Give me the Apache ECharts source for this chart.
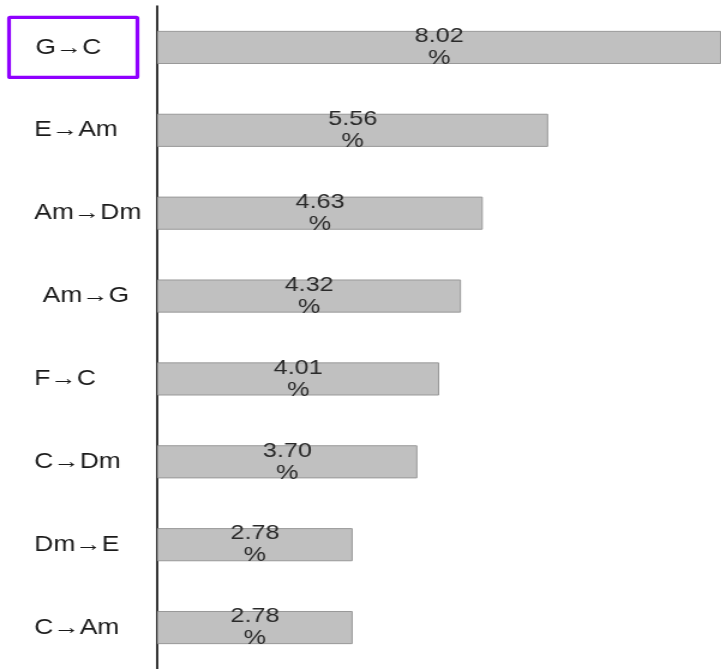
<!DOCTYPE html>
<html>
<head>
<meta charset="utf-8">
<script src="https://cdn.jsdelivr.net/npm/echarts@6/dist/echarts.min.js"></script>
<style>
  html, body { margin: 0; padding: 0; background: #fff; overflow: hidden; }
  /* the chart is laid out narrower and widened, giving the stretched lettering */
  #chart { width: 601px; height: 669px; transform: scaleX(1.2); transform-origin: 0 0; }
</style>
</head>
<body>
<div id="chart"></div>
<script>
// Chord transitions, most frequent first
const transitions = ['G→C', 'E→Am', 'Am→Dm', 'Am→G', 'F→C', 'C→Dm', 'Dm→E', 'C→Am'];
const shares = [8.02, 5.56, 4.63, 4.32, 4.01, 3.70, 2.78, 2.78];
const highlighted = 'G→C';
const indented = 'Am→G';

const FONT = 'Liberation Sans, Arial, sans-serif';
const chart = echarts.init(document.getElementById('chart'));

chart.setOption({
  animation: false,
  grid: { left: 131, top: 6, bottom: 0, width: 475, containLabel: false },
  xAxis: {
    type: 'value',
    min: 0,
    max: 8.02,
    show: false
  },
  yAxis: {
    type: 'category',
    data: transitions,
    inverse: true,
    axisLine: { show: true, lineStyle: { color: '#111', width: 1.7 } },
    axisTick: { show: false },
    splitLine: { show: false },
    axisLabel: {
      align: 'right',
      margin: 10.5,
      fontFamily: FONT,
      fontSize: 22,
      color: '#1a1a1a',
      formatter: function (name) {
        if (name === highlighted) return '{hi|' + name + '}{gap|}';
        if (name === indented) return '{ind|' + name + '}';
        return '{n|' + name + '}';
      },
      rich: {
        n: { width: 92, align: 'left', fontSize: 22, color: '#1a1a1a', fontFamily: FONT },
        ind: { width: 85, padding: [0, 0, 0, 7], align: 'left', fontSize: 22, color: '#1a1a1a', fontFamily: FONT },
        gap: { width: 6 },
        hi: {
          width: 64, height: 22, lineHeight: 22, align: 'left',
          padding: [19, 21, 19, 22],
          borderColor: '#8f00ff', borderWidth: 3.2, borderRadius: 1,
          fontSize: 22, color: '#1a1a1a', fontFamily: FONT
        }
      }
    }
  },
  series: [{
    type: 'bar',
    data: shares,
    barWidth: '40%',
    itemStyle: { color: '#c0c0c0', borderColor: '#999999', borderWidth: 1 },
    label: {
      show: true,
      position: 'inside',
      color: '#2a2a2a',
      fontSize: 21,
      lineHeight: 22,
      fontFamily: FONT,
      formatter: function (p) { return p.value.toFixed(2) + '\n%'; }
    }
  }]
});
</script>
</body>
</html>
